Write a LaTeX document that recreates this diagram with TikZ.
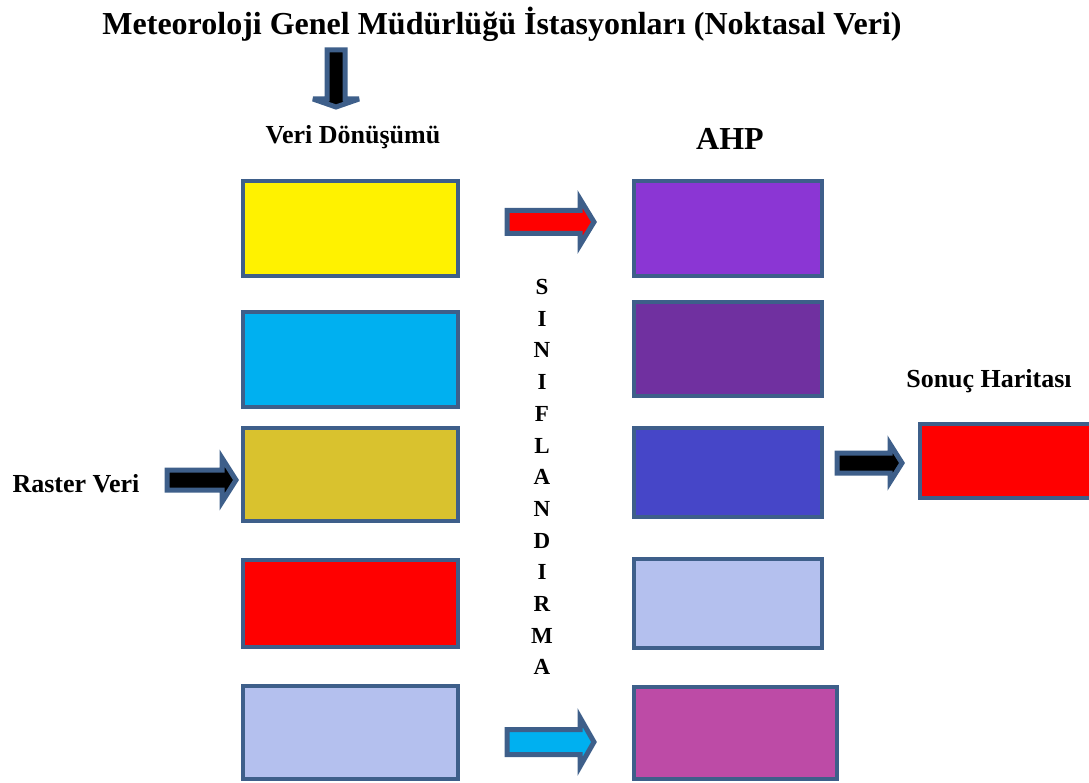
\documentclass[tikz,border=0pt]{standalone}
\usepackage{fontspec}
\setmainfont{Liberation Serif}
\definecolor{edge}{HTML}{3E5F8A}
\definecolor{cyanb}{HTML}{00B0F0}
\definecolor{goldb}{HTML}{D9C22E}
\definecolor{lav}{HTML}{B4C0EE}
\definecolor{purp1}{HTML}{8B36D4}
\definecolor{purp2}{HTML}{7030A0}
\definecolor{blueb}{HTML}{4646C8}
\definecolor{magb}{HTML}{BD4BA6}
\newcommand\myharrow[8]{% name, x0, xb, xtip, yc, half shaft, half head, fill
  \draw[arrowbox, fill=#8] (#2,#5-#6) -- (#3,#5-#6) -- (#3,#5-#7) -- (#4,#5) -- (#3,#5+#7) -- (#3,#5+#6) -- (#2,#5+#6) -- cycle;
  \coordinate (#1) at (#4,#5);}
\begin{document}
\begin{tikzpicture}[x=1pt,y=-1pt,
  box/.style={draw=edge, line width=4pt},
  arrowbox/.style={draw=edge, line width=5pt, line join=miter},
  lbl/.style={font=\bfseries\fontsize{26}{28}\selectfont, inner sep=0pt}]
\useasboundingbox (0,0) rectangle (1089,783);
% title
\node[inner sep=0pt, font=\bfseries\fontsize{32}{36}\selectfont] (title) at (502,24) {Meteoroloji Genel Müdürlüğü İstasyonları (Noktasal Veri)};
% down arrow
\draw[arrowbox, fill=black, miter limit=3] (327,50) -- (345,50) -- (345,99) -- (359,99) -- (336,107) -- (313,99) -- (327,99) -- cycle;
\node[lbl] (vd) at (353,137) {Veri Dönüşümü};
\node[inner sep=0pt, font=\bfseries\fontsize{32}{36}\selectfont] (ahp) at (730,139) {AHP};
% left column
\draw[box, fill=yellow] (243,181) rectangle (458,276);
\draw[box, fill=cyanb] (243,312) rectangle (458,407);
\draw[box, fill=goldb] (243,428) rectangle (458,521);
\draw[box, fill=red] (243,560) rectangle (458,647);
\draw[box, fill=lav] (243,686) rectangle (458,779);
% right column
\draw[box, fill=purp1] (634,181) rectangle (822,276);
\draw[box, fill=purp2] (634,302) rectangle (822,396);
\draw[box, fill=blueb] (634,428) rectangle (822,517);
\draw[box, fill=lav] (634,559) rectangle (822,648);
\draw[box, fill=magb] (634,687) rectangle (837,779);
% result
\draw[box, fill=red] (920,424) rectangle (1095,498);
\node[lbl] (sh) at (989,381) {Sonuç Haritası};
\node[lbl] (rv) at (76,484) {Raster Veri};
% arrows
\myharrow{a1}{507}{580}{594}{222}{11.5}{23}{red}
\myharrow{a2}{507}{580}{594}{742}{12.5}{24.5}{cyanb}
\myharrow{a3}{167}{222}{236}{480}{10}{22}{black}
\myharrow{a4}{837}{890}{902}{463}{10}{19}{black}
% vertical text
\foreach \l [count=\i from 0] in {S,I,N,I,F,L,A,N,D,I,R,M,A}
  \node[inner sep=0pt, font=\bfseries\fontsize{23}{25}\selectfont] (v\i) at (542,287+\i*31.7) {\l};
\end{tikzpicture}
\end{document}
